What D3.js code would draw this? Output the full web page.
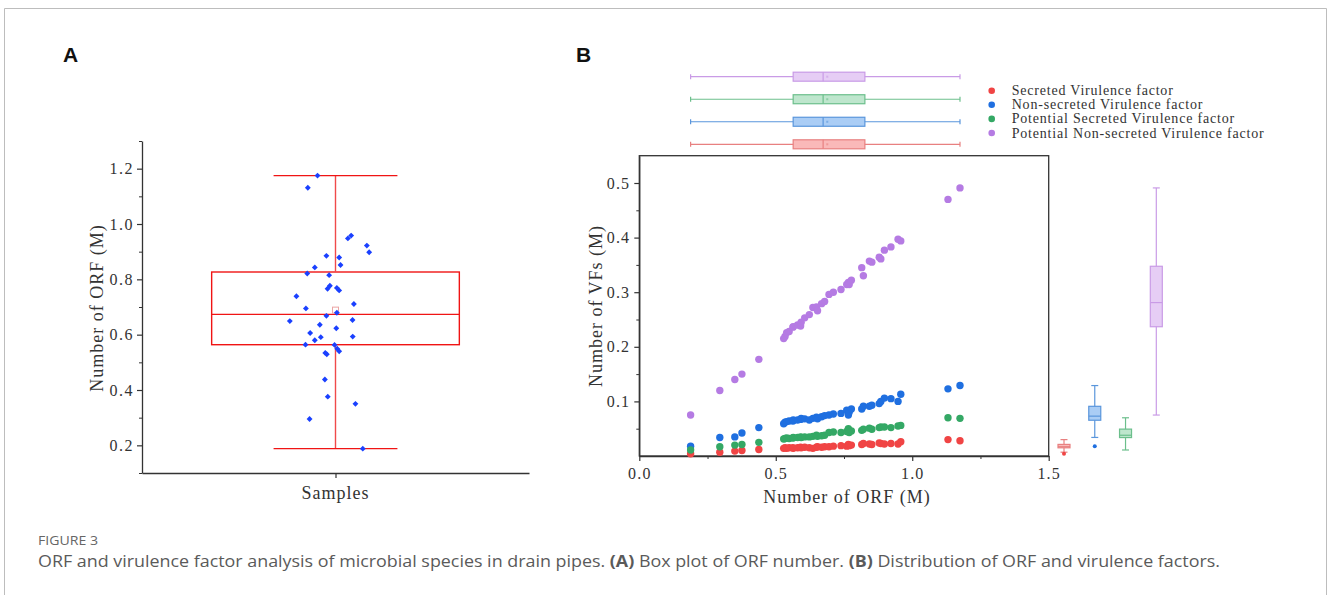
<!DOCTYPE html>
<html>
<head>
<meta charset="utf-8">
<script src="https://cdn.jsdelivr.net/npm/d3@7"></script>
<style>
    body { margin: 0; background: #fff; }
    svg { display: block; }
</style>
</head>
<body>
<div id="chart"></div>
<script>
// ---- data (samples sorted by ORF count) ----
var orf = [0.188, 0.295, 0.350, 0.376, 0.438, 0.529, 0.534, 0.540, 0.549, 0.563,
           0.564, 0.580, 0.591, 0.593, 0.606, 0.623, 0.636, 0.649, 0.653, 0.668,
           0.679, 0.695, 0.711, 0.739, 0.760, 0.766, 0.769, 0.777, 0.815, 0.821,
           0.843, 0.852, 0.879, 0.885, 0.898, 0.922, 0.948, 0.958, 1.131, 1.175];
// horizontal jitter of the points in panel A (fraction of half axis width)
var jitter = [0.141, -0.134, 0.103, -0.040, -0.055, -0.045, -0.053, 0.019, 0.009, -0.005,
              -0.155, -0.107, -0.076, 0.089, -0.131, 0.004, -0.081, -0.236, 0.088, -0.047,
              0.007, -0.153, 0.095, -0.202, 0.019, -0.041, 0.007, -0.029, -0.033, -0.146,
              -0.107, 0.026, 0.019, -0.047, 0.174, 0.162, 0.064, 0.081, -0.143, -0.093];
var secreted = [0.004, 0.007, 0.009, 0.010, 0.012, 0.014, 0.015, 0.014, 0.015, 0.015,
                0.014, 0.015, 0.016, 0.015, 0.016, 0.015, 0.014, 0.016, 0.017, 0.016,
                0.017, 0.017, 0.018, 0.019, 0.018, 0.021, 0.019, 0.020, 0.021, 0.023,
                0.022, 0.021, 0.024, 0.023, 0.022, 0.023, 0.022, 0.026, 0.030, 0.028];
var nonSecreted = [0.018, 0.034, 0.035, 0.042, 0.052, 0.059, 0.062, 0.063, 0.064, 0.064,
                   0.066, 0.066, 0.067, 0.069, 0.068, 0.066, 0.069, 0.071, 0.068, 0.072,
                   0.074, 0.075, 0.077, 0.078, 0.084, 0.075, 0.080, 0.086, 0.086, 0.091,
                   0.091, 0.093, 0.096, 0.100, 0.106, 0.105, 0.100, 0.113, 0.123, 0.129];
var potSecreted = [0.011, 0.017, 0.020, 0.021, 0.025, 0.031, 0.032, 0.033, 0.032, 0.033,
                   0.034, 0.034, 0.035, 0.034, 0.035, 0.035, 0.036, 0.038, 0.036, 0.037,
                   0.038, 0.043, 0.044, 0.043, 0.045, 0.050, 0.043, 0.046, 0.047, 0.049,
                   0.051, 0.049, 0.052, 0.053, 0.053, 0.052, 0.055, 0.056, 0.070, 0.069];
var potNonSecreted = [0.075, 0.120, 0.140, 0.150, 0.177, 0.215, 0.219, 0.226, 0.228, 0.236,
                      0.237, 0.240, 0.238, 0.245, 0.253, 0.259, 0.272, 0.273, 0.266, 0.279,
                      0.283, 0.296, 0.300, 0.305, 0.314, 0.318, 0.314, 0.322, 0.345, 0.330,
                      0.357, 0.355, 0.364, 0.361, 0.377, 0.383, 0.397, 0.394, 0.470, 0.491];
var groupNames = ['Secreted Virulence factor', 'Non-secreted Virulence factor',
                  'Potential Secreted Virulence factor', 'Potential Non-secreted Virulence factor'];
var ticksA = [0.2, 0.4, 0.6, 0.8, 1.0, 1.2];
var ticksBx = [0, 0.5, 1.0, 1.5];
var ticksBy = [0.1, 0.2, 0.3, 0.4, 0.5];

var groupValues = [secreted, nonSecreted, potSecreted, potNonSecreted];
var dotColor = ['#f04444', '#1f6fe0', '#34a865', '#b57be3'];
var boxFill = ['#fab9b9', '#aacdf5', '#bee6cd', '#e6cdf5'];
var boxStroke = ['#e88080', '#5a96dc', '#6cbf8c', '#c99be6'];

// serif face standing in for the SimSun latin glyphs, widened with letter-spacing
var FONT = '"Liberation Serif", "DejaVu Serif", serif';
var W = 1328, H = 595;

var svg = d3.select('#chart').append('svg')
    .attr('width', W).attr('height', H)
    .attr('xmlns', 'http://www.w3.org/2000/svg');

// page frame
svg.append('path')
    .attr('d', 'M4.5,' + H + 'V8.5H1326.5V' + H)
    .attr('fill', 'none').attr('stroke', '#bdbdbd');

function boxStats(v) {
    var s = v.slice().sort(d3.ascending);
    var q1 = d3.quantile(s, 0.25), med = d3.quantile(s, 0.5), q3 = d3.quantile(s, 0.75);
    var iqr = q3 - q1;
    var lo = d3.min(s.filter(function (d) { return d >= q1 - 1.5 * iqr; }));
    var hi = d3.max(s.filter(function (d) { return d <= q3 + 1.5 * iqr; }));
    return { q1: q1, med: med, q3: q3, lo: lo, hi: hi, mean: d3.mean(s),
             out: s.filter(function (d) { return d < lo || d > hi; }) };
}

function styleAxis(g, size, spacing) {
    g.selectAll('path.domain').attr('stroke', '#333').attr('stroke-width', 1.3);
    g.selectAll('.tick line').attr('stroke', '#333').attr('stroke-width', 1.2);
    g.selectAll('.tick text')
        .attr('fill', '#333')
        .style('font-family', FONT)
        .style('font-size', size + 'px')
        .style('letter-spacing', spacing + 'px');
}

function panelLabel(txt, x) {
    svg.append('text').attr('x', x).attr('y', 61.5)
        .style('font-family', '"Liberation Sans", Arial, sans-serif')
        .style('font-weight', 'bold').style('font-size', '21px')
        .attr('fill', '#111').text(txt);
}

function axisTitle(txt, x, y, rotate) {
    svg.append('text')
        .attr('transform', 'translate(' + x + ',' + y + ')' + (rotate ? ' rotate(-90)' : ''))
        .attr('text-anchor', 'middle').attr('dominant-baseline', 'central')
        .style('font-family', FONT).style('font-size', '18px')
        .style('letter-spacing', '1px')
        .attr('fill', '#333').text(txt);
}

// ================= Panel A =================
panelLabel('A', 63);

var xA = d3.scaleLinear().domain([-1, 1]).range([142, 529]);
var yA = d3.scaleLinear().domain([0.1, 1.3]).range([473, 141]);

svg.append('g').attr('transform', 'translate(142,0)')
    .call(d3.axisLeft(yA).tickValues(d3.range(0.1, 1.31, 0.2)).tickSize(3).tickFormat(''))
    .call(function (g) { g.select('.domain').remove(); g.selectAll('line').attr('stroke', '#333'); });
svg.append('g').attr('transform', 'translate(142,0)')
    .call(d3.axisLeft(yA).tickValues(ticksA).tickFormat(d3.format('.1f'))
        .tickSize(5).tickSizeOuter(0).tickPadding(3))
    .call(styleAxis, 16, 1.5);
svg.append('g').attr('transform', 'translate(0,473)')
    .call(d3.axisBottom(xA).tickValues([0]).tickFormat('').tickSize(5).tickSizeOuter(0))
    .call(styleAxis, 16, 1.5);

axisTitle('Number of ORF (M)', 97, 308, true);
axisTitle('Samples', xA(0), 493, false);

var sA = boxStats(orf);
var gA = svg.append('g');
gA.append('rect')
    .attr('x', xA(-0.64)).attr('width', xA(0.64) - xA(-0.64))
    .attr('y', yA(sA.q3)).attr('height', yA(sA.q1) - yA(sA.q3))
    .attr('fill', 'none').attr('stroke', '#f01414').attr('stroke-width', 1.4);
gA.append('line')
    .attr('x1', xA(-0.64)).attr('x2', xA(0.64))
    .attr('y1', yA(sA.med)).attr('y2', yA(sA.med))
    .attr('stroke', '#f01414').attr('stroke-width', 1.4);
[[sA.q3, sA.hi], [sA.q1, sA.lo]].forEach(function (w) {
    gA.append('line')
        .attr('x1', xA(0)).attr('x2', xA(0))
        .attr('y1', yA(w[0])).attr('y2', yA(w[1]))
        .attr('stroke', '#f04a4a').attr('stroke-width', 1.4);
    gA.append('line')
        .attr('x1', xA(-0.32)).attr('x2', xA(0.32))
        .attr('y1', yA(w[1])).attr('y2', yA(w[1]))
        .attr('stroke', '#f01414').attr('stroke-width', 1.4);
});
gA.append('rect')
    .attr('x', xA(0) - 3).attr('y', yA(sA.mean) - 3)
    .attr('width', 6).attr('height', 6)
    .attr('fill', 'none').attr('stroke', '#eba5a5').attr('stroke-width', 1);

gA.selectAll('path.pt').data(orf).join('path')
    .attr('class', 'pt')
    .attr('d', d3.symbol(d3.symbolDiamond2, 22))
    .attr('transform', function (d, i) { return 'translate(' + xA(jitter[i]) + ',' + yA(d) + ')'; })
    .attr('fill', '#1a40ff');

// ================= Panel B =================
panelLabel('B', 576);

var xB = d3.scaleLinear().domain([0, 1.5]).range([639.3, 1048.7]);
var yB = d3.scaleLinear().domain([0, 0.55]).range([456, 155.7]);

svg.append('g').attr('transform', 'translate(639.3,0)')
    .call(d3.axisLeft(yB).tickValues(d3.range(0.05, 0.55, 0.1)).tickSize(3).tickFormat(''))
    .call(function (g) { g.select('.domain').remove(); g.selectAll('line').attr('stroke', '#333'); });
svg.append('g').attr('transform', 'translate(0,456)')
    .call(d3.axisBottom(xB).tickValues([0.25, 0.75, 1.25]).tickSize(3).tickFormat(''))
    .call(function (g) { g.select('.domain').remove(); g.selectAll('line').attr('stroke', '#333'); });
svg.append('g').attr('transform', 'translate(639.3,0)')
    .call(d3.axisLeft(yB).tickValues(ticksBy).tickFormat(d3.format('.1f'))
        .tickSize(5).tickSizeOuter(0).tickPadding(4))
    .call(styleAxis, 16, 1.2);
svg.append('g').attr('transform', 'translate(0,456)')
    .call(d3.axisBottom(xB).tickValues(ticksBx).tickFormat(d3.format('.1f'))
        .tickSize(5).tickSizeOuter(0).tickPadding(7))
    .call(styleAxis, 16, 1.2);
svg.append('rect')
    .attr('x', xB(0)).attr('y', yB(0.55))
    .attr('width', xB(1.5) - xB(0)).attr('height', yB(0) - yB(0.55))
    .attr('fill', 'none').attr('stroke', '#333').attr('stroke-width', 1.3);

axisTitle('Number of VFs (M)', 596, 306, true);
axisTitle('Number of ORF (M)', 847, 497, false);

// scatter
groupValues.forEach(function (vals, k) {
    svg.append('g').selectAll('circle').data(vals).join('circle')
        .attr('cx', function (d, i) { return xB(orf[i]); })
        .attr('cy', function (d) { return yB(d); })
        .attr('r', 3.7)
        .attr('fill', dotColor[k]);
});

// top marginal boxes (ORF distribution, one per group)
var yTop = d3.scalePoint().domain(d3.range(4)).range([144.3, 76.7]);
var sTop = boxStats(orf);
groupValues.forEach(function (vals, k) {
    var g = svg.append('g'), yc = yTop(k), hh = 4.5;
    g.append('line').attr('x1', xB(sTop.lo)).attr('x2', xB(sTop.hi))
        .attr('y1', yc).attr('y2', yc).attr('stroke', boxStroke[k]).attr('stroke-width', 1.2);
    [sTop.lo, sTop.hi].forEach(function (v) {
        g.append('line').attr('x1', xB(v)).attr('x2', xB(v))
            .attr('y1', yc - 2.5).attr('y2', yc + 2.5).attr('stroke', boxStroke[k]).attr('stroke-width', 1.2);
    });
    g.append('rect').attr('x', xB(sTop.q1)).attr('width', xB(sTop.q3) - xB(sTop.q1))
        .attr('y', yc - hh).attr('height', 2 * hh)
        .attr('fill', boxFill[k]).attr('stroke', boxStroke[k]).attr('stroke-width', 1.2);
    g.append('line').attr('x1', xB(sTop.med)).attr('x2', xB(sTop.med))
        .attr('y1', yc - hh).attr('y2', yc + hh).attr('stroke', boxStroke[k]).attr('stroke-width', 1.2);
    g.append('rect').attr('x', xB(sTop.mean) - 1).attr('y', yc - 1)
        .attr('width', 2).attr('height', 2).attr('fill', boxStroke[k]).attr('opacity', 0.6);
});

// right marginal boxes (VF distribution per group)
var xRight = d3.scalePoint().domain(d3.range(4)).range([1064, 1156.3]);
groupValues.forEach(function (vals, k) {
    var s = boxStats(vals), g = svg.append('g'), xc = xRight(k), hw = 6;
    g.append('line').attr('x1', xc).attr('x2', xc)
        .attr('y1', yB(s.lo)).attr('y2', yB(s.hi)).attr('stroke', boxStroke[k]).attr('stroke-width', 1.2);
    [s.lo, s.hi].forEach(function (v) {
        g.append('line').attr('x1', xc - 3.5).attr('x2', xc + 3.5)
            .attr('y1', yB(v)).attr('y2', yB(v)).attr('stroke', boxStroke[k]).attr('stroke-width', 1.2);
    });
    g.append('rect').attr('x', xc - hw).attr('width', 2 * hw)
        .attr('y', yB(s.q3)).attr('height', yB(s.q1) - yB(s.q3))
        .attr('fill', boxFill[k]).attr('stroke', boxStroke[k]).attr('stroke-width', 1.2);
    g.append('line').attr('x1', xc - hw).attr('x2', xc + hw)
        .attr('y1', yB(s.med)).attr('y2', yB(s.med)).attr('stroke', boxStroke[k]).attr('stroke-width', 1.2);
    g.selectAll('circle').data(s.out).join('circle')
        .attr('cx', xc).attr('cy', function (d) { return yB(d); })
        .attr('r', 2).attr('fill', dotColor[k]);
});

// legend
var legend = svg.append('g').attr('transform', 'translate(991.7,90.7)');
groupNames.forEach(function (name, k) {
    var row = legend.append('g').attr('transform', 'translate(0,' + (k * 14.1) + ')');
    row.append('circle').attr('r', 3.3).attr('fill', dotColor[k]);
    row.append('text').attr('x', 20).attr('y', 4.5)
        .style('font-family', FONT).style('font-size', '14px')
        .style('letter-spacing', '0.8px')
        .attr('fill', '#333').text(name);
});

// ================= caption =================
svg.append('text').attr('x', 38).attr('y', 545)
    .style('font-family', '"Open Sans", "Noto Sans", sans-serif')
    .style('font-size', '12px').attr('fill', '#666')
    .attr('textLength', 60).attr('lengthAdjust', 'spacingAndGlyphs')
    .text('FIGURE 3');
var cap = svg.append('text').attr('x', 38).attr('y', 567)
    .style('font-family', '"Open Sans", "Noto Sans", sans-serif')
    .style('font-size', '16px').attr('fill', '#5a5a5a')
    .attr('textLength', 1182).attr('lengthAdjust', 'spacingAndGlyphs');
[['ORF and virulence factor analysis of microbial species in drain pipes. ', false],
 ['(A)', true], [' Box plot of ORF number. ', false],
 ['(B)', true], [' Distribution of ORF and virulence factors.', false]].forEach(function (p) {
    cap.append('tspan').style('font-weight', p[1] ? 'bold' : 'normal').text(p[0]);
});
</script>
</body>
</html>
